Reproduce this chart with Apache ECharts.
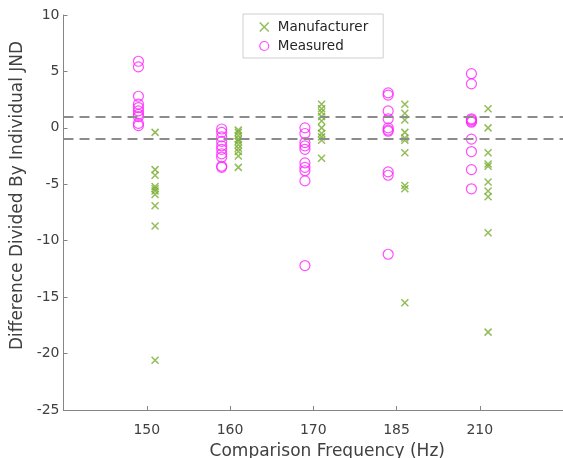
<!DOCTYPE html>
<html>
<head>
<meta charset="utf-8">
<script src="https://cdn.jsdelivr.net/npm/echarts@6/dist/echarts.min.js"></script>
<style>
html,body{margin:0;padding:0;background:#fff;}
#chart{width:563px;height:458px;}
</style>
</head>
<body>
<div id="chart"></div>
<script>
// Category tick labels (Comparison Frequency, Hz)
const categories = ['150', '160', '170', '185', '210'];

// Measured values per comparison frequency
const measured150 = [5.9, 5.4, 2.8, 2.1, 1.8, 1.5, 1.2, 1.0, 0.4, 0.2];
const measured160 = [-0.1, -0.4, -0.8, -1.2, -1.6, -1.9, -2.3, -2.6, -3.4, -3.5];
const measured170 = [0.0, -0.5, -1.3, -1.6, -1.9, -3.1, -3.5, -3.8, -4.7, -12.2];
const measured185 = [3.1, 2.9, 1.5, 0.8, 0.0, -0.2, -0.3, -3.9, -4.2, -11.2];
const measured210 = [4.8, 3.9, 0.8, 0.7, 0.6, 0.5, -1.0, -2.1, -3.7, -5.4];

// Manufacturer values per comparison frequency
const manufacturer150 = [-0.4, -3.7, -4.2, -5.2, -5.4, -5.6, -5.9, -6.9, -8.7, -20.6];
const manufacturer160 = [-0.2, -0.4, -0.7, -1.0, -1.2, -1.5, -1.8, -2.1, -2.5, -3.5];
const manufacturer170 = [2.1, 1.7, 1.4, 1.0, 0.6, 0.0, -0.5, -0.8, -1.1, -2.7];
const manufacturer185 = [2.1, 1.3, 0.7, -0.4, -0.9, -1.1, -2.2, -5.1, -5.4, -15.5];
const manufacturer210 = [1.7, 0.0, -2.2, -3.2, -3.4, -4.8, -5.6, -6.1, -9.3, -18.1];

// JND threshold lines
const thresholds = [1, -1];

const measuredGroups = [measured150, measured160, measured170, measured185, measured210];
const manufacturerGroups = [manufacturer150, manufacturer160, manufacturer170, manufacturer185, manufacturer210];

function build(groups, offset) {
  const out = [];
  groups.forEach((g, i) => g.forEach(v => out.push([i + 1 + offset, v])));
  return out;
}

const FONT = 'DejaVu Sans';
const AX = '#858585';
const TXT = '#404040';
const GREEN = '#77ac30';
const MAGENTA = '#ff22ff';
const XPATH = 'path://M0,0L10,10M10,0L0,10';

const chart = echarts.init(document.getElementById('chart'), null, {renderer: 'canvas'});
chart.setOption({
  backgroundColor: '#fff',
  animation: false,
  grid: {left: 63.5, right: 0, top: 15, bottom: 48, containLabel: false, outerBoundsMode: 'none'},
  legend: {
    orient: 'vertical',
    left: 243, top: 14,
    padding: [6, 15, 5, 16],
    itemWidth: 9, itemHeight: 9, itemGap: 5,
    borderColor: '#cfcfcf', borderWidth: 1,
    backgroundColor: '#fff',
    textStyle: {fontFamily: FONT, fontSize: 13.5, color: '#262626', lineHeight: 14, padding: [0, 0, 0, 4]},
    data: [
      {name: 'Manufacturer', icon: XPATH, itemStyle: {color: 'rgba(0,0,0,0)', borderColor: GREEN, borderWidth: 1.5}},
      {name: 'Measured', icon: 'circle', itemStyle: {color: 'rgba(0,0,0,0)', borderColor: MAGENTA, borderWidth: 1.2}}
    ]
  },
  xAxis: {
    type: 'value', min: 0, max: 6, interval: 1,
    name: 'Comparison Frequency (Hz)', nameLocation: 'middle', nameGap: 33,
    nameTextStyle: {fontFamily: FONT, fontSize: 17, color: TXT, padding: [0, 0, 0, 28]},
    axisLine: {onZero: false, lineStyle: {color: AX, width: 1}},
    axisTick: {inside: true, length: 4, lineStyle: {color: AX}},
    axisLabel: {
      fontFamily: FONT, fontSize: 14, color: TXT, margin: 13,
      formatter: v => (v >= 1 && v <= categories.length) ? categories[v - 1] : ''
    },
    splitLine: {show: false}
  },
  yAxis: {
    type: 'value', min: -25, max: 10, interval: 5,
    name: 'Difference Divided By Individual JND', nameLocation: 'middle', nameGap: 36,
    nameTextStyle: {fontFamily: FONT, fontSize: 17, color: TXT, padding: [0, 0, 0, 34]},
    axisLine: {show: true, onZero: false, lineStyle: {color: AX, width: 1}},
    axisTick: {show: true, inside: true, length: 4, lineStyle: {color: AX}},
    axisLabel: {fontFamily: FONT, fontSize: 14, color: TXT, margin: 4},
    splitLine: {show: false}
  },
  series: [
    {
      name: 'Manufacturer', type: 'scatter',
      symbol: XPATH,
      symbolSize: 7,
      itemStyle: {color: 'rgba(0,0,0,0)', borderColor: GREEN, borderWidth: 1.5},
      data: build(manufacturerGroups, 0.1),
      z: 3
    },
    {
      name: 'Measured', type: 'scatter',
      symbol: 'circle', symbolSize: 10,
      itemStyle: {color: 'rgba(0,0,0,0)', borderColor: MAGENTA, borderWidth: 1.2},
      data: build(measuredGroups, -0.1),
      markLine: {
        silent: true, symbol: 'none', label: {show: false},
        lineStyle: {color: '#8c8c8c', width: 2, type: [10, 6]},
        data: thresholds.map(t => ({yAxis: t}))
      },
      z: 3
    }
  ]
});
</script>
</body>
</html>
